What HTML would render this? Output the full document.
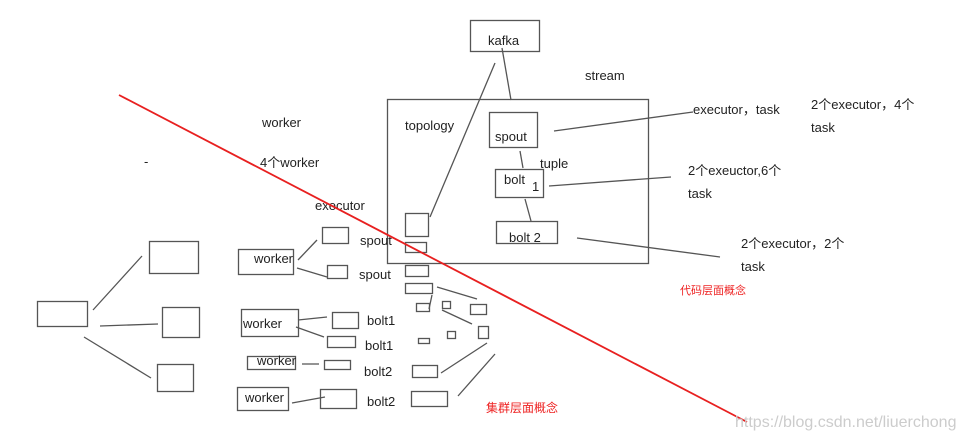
<!DOCTYPE html>
<html><head><meta charset="utf-8"><style>
html,body{margin:0;padding:0;background:#fff;width:963px;height:439px;overflow:hidden}
svg text{font-family:"Liberation Sans","Noto Sans CJK SC",sans-serif;font-size:13px;fill:#222}
</style></head><body>
<svg width="963" height="439" viewBox="0 0 963 439" xmlns="http://www.w3.org/2000/svg">
<g fill="none" stroke="#555" stroke-width="1.3">
<rect x="470.5" y="20.5" width="69" height="31"/>
<rect x="387.5" y="99.5" width="261" height="164"/>
<rect x="489.5" y="112.5" width="48" height="35"/>
<rect x="495.5" y="169.5" width="48" height="28"/>
<rect x="496.5" y="221.5" width="61" height="22"/>
<line x1="502" y1="48" x2="511" y2="100"/>
<line x1="495" y1="63" x2="430" y2="217"/>
<line x1="520" y1="151" x2="523" y2="168"/>
<line x1="525" y1="199" x2="531" y2="221"/>
<line x1="554" y1="131" x2="693" y2="112"/>
<line x1="549" y1="186" x2="671" y2="177"/>
<line x1="577" y1="238" x2="720" y2="257"/>
<rect x="405.5" y="213.5" width="23" height="23"/>
<rect x="405.5" y="242.5" width="21" height="10"/>
<rect x="405.5" y="265.5" width="23" height="11"/>
<rect x="405.5" y="283.5" width="27" height="10"/>
<rect x="416.5" y="303.5" width="13" height="8"/>
<rect x="442.5" y="301.5" width="8" height="7"/>
<rect x="470.5" y="304.5" width="16" height="10"/>
<rect x="418.5" y="338.5" width="11" height="5"/>
<rect x="447.5" y="331.5" width="8" height="7"/>
<rect x="478.5" y="326.5" width="10" height="12"/>
<rect x="412.5" y="365.5" width="25" height="12"/>
<rect x="411.5" y="391.5" width="36" height="15"/>
<line x1="437" y1="287" x2="477" y2="299"/>
<line x1="432" y1="295" x2="429" y2="309"/>
<line x1="442" y1="310" x2="472" y2="324"/>
<line x1="441" y1="373" x2="487" y2="343"/>
<line x1="458" y1="396" x2="495" y2="354"/>
<rect x="322.5" y="227.5" width="26" height="16"/>
<rect x="327.5" y="265.5" width="20" height="13"/>
<rect x="332.5" y="312.5" width="26" height="16"/>
<rect x="327.5" y="336.5" width="28" height="11"/>
<rect x="324.5" y="360.5" width="26" height="9"/>
<rect x="320.5" y="389.5" width="36" height="19"/>
<rect x="238.5" y="249.5" width="55" height="25"/>
<rect x="241.5" y="309.5" width="57" height="27"/>
<rect x="247.5" y="356.5" width="48" height="13"/>
<rect x="237.5" y="387.5" width="51" height="23"/>
<line x1="298" y1="260" x2="317" y2="240"/>
<line x1="297" y1="268" x2="327" y2="277"/>
<line x1="298" y1="320" x2="327" y2="317"/>
<line x1="296" y1="327" x2="324" y2="337"/>
<line x1="302" y1="364" x2="319" y2="364"/>
<line x1="292" y1="403" x2="325" y2="397"/>
<rect x="37.5" y="301.5" width="50" height="25"/>
<rect x="149.5" y="241.5" width="49" height="32"/>
<rect x="162.5" y="307.5" width="37" height="30"/>
<rect x="157.5" y="364.5" width="36" height="27"/>
<line x1="93" y1="310" x2="142" y2="256"/>
<line x1="100" y1="326" x2="158" y2="324"/>
<line x1="84" y1="337" x2="151" y2="378"/>
</g>
<text x="488" y="45">kafka</text>
<text x="585" y="80">stream</text>
<text x="405" y="130">topology</text>
<text x="495" y="141">spout</text>
<text x="540" y="168">tuple</text>
<text x="504" y="184">bolt</text>
<text x="532" y="191">1</text>
<text x="509" y="242">bolt 2</text>
<text x="693" y="114">executor，task</text>
<text x="811" y="109">2个executor，4个</text>
<text x="811" y="132">task</text>
<text x="688" y="175">2个exeuctor,6个</text>
<text x="688" y="198">task</text>
<text x="741" y="248">2个executor，2个</text>
<text x="741" y="271">task</text>
<text x="680" y="294" style="fill:#e22;font-size:11px">代码层面概念</text>
<text x="486" y="412" style="fill:#e22;font-size:12px">集群层面概念</text>
<text x="262" y="127">worker</text>
<text x="260" y="167">4个worker</text>
<text x="144" y="166">-</text>
<text x="315" y="210">executor</text>
<text x="360" y="245">spout</text>
<text x="359" y="279">spout</text>
<text x="367" y="325">bolt1</text>
<text x="365" y="350">bolt1</text>
<text x="364" y="376">bolt2</text>
<text x="367" y="406">bolt2</text>
<text x="254" y="263">worker</text>
<text x="243" y="328">worker</text>
<text x="257" y="365">worker</text>
<text x="245" y="402">worker</text>
<line x1="119" y1="95" x2="747" y2="422" stroke="#e82020" stroke-width="1.8"/>
<text x="735" y="427" style="fill:#ccc;font-size:16px">https://blog.csdn.net/liuerchong</text>
</svg>
</body></html>
